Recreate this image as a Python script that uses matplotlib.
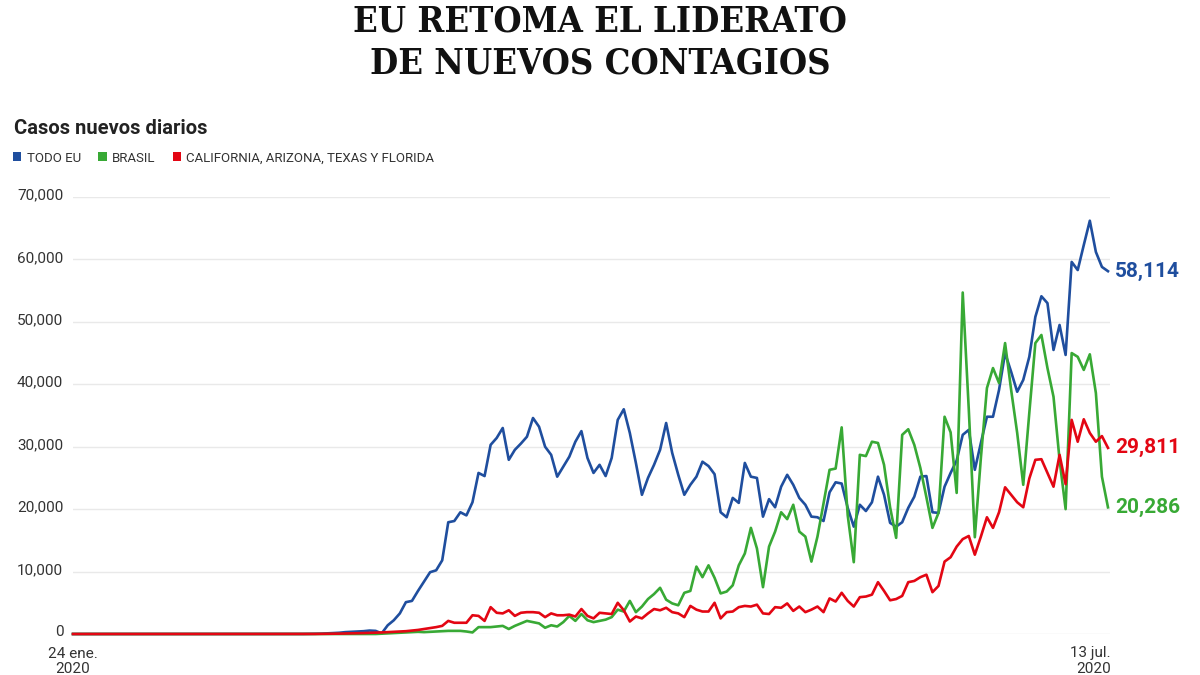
import matplotlib
matplotlib.use("Agg")
import matplotlib.pyplot as plt
from matplotlib import font_manager as fm
from matplotlib.patches import Patch
from matplotlib.transforms import ScaledTranslation
import pandas as pd

# daily new cases, 24 jan -> 13 jul 2020
fechas = pd.date_range("2020-01-24", "2020-07-13", freq="D")

todo_eu = [0] * 38 + [
    10, 20, 40, 60, 100, 150, 200, 300, 350, 400, 450, 550, 500,
    100, 1400, 2200, 3300, 5100, 5300, 6900, 8400, 9900, 10200,
    11800, 17900, 18100, 19500, 19000, 21100, 25800, 25300, 30300, 31400,
    33000, 27900, 29500, 30500, 31600, 34600, 33200, 30000, 28700, 25200,
    26800, 28400, 30800, 32500, 28200, 25800, 27100, 25300, 28200, 34300,
    36000, 32200, 27400, 22300, 25000, 27100, 29500, 33800, 29000, 25500,
    22300, 23900, 25200, 27600, 26900, 25600, 19500, 18700, 21800, 21000,
    27400, 25200, 25000, 18800, 21600, 20300, 23600, 25500, 23900, 21800,
    20700, 18800, 18700, 18100, 22700, 24300, 24100, 20200, 17200, 20700,
    19700, 21100, 25200, 22300, 17800, 17200, 17900, 20200, 22000, 25200,
    25300, 19500, 19400, 23600, 25800, 27800, 31900, 32700, 26300, 30600,
    34800, 34800, 39100, 45000, 42000, 38800, 40700, 44400, 50800, 54100,
    53000, 45500, 49500, 44700, 59600, 58300, 62300, 66200, 61200, 58800,
    58114,
]

brasil = [0] * 51 + [
    50, 100, 150, 200, 250, 300, 350, 300, 350, 400,
    450, 500, 500, 500, 400, 250, 1100, 1100, 1100, 1200,
    1300, 800, 1300, 1700, 2100, 1900, 1700, 1000, 1400, 1200,
    1900, 2900, 2100, 3200, 2200, 1900, 2100, 2300, 2700, 3900,
    3600, 5300, 3500, 4400, 5600, 6400, 7400, 5500, 4900, 4600,
    6600, 6900, 10800, 9100, 11000, 9000, 6500, 6800, 7800, 11000,
    12900, 17000, 13700, 7500, 14000, 16400, 19500, 18400, 20700, 16400,
    15600, 11600, 15600, 20900, 26300, 26500, 33100, 19000, 11500, 28700,
    28500, 30800, 30600, 27100, 20300, 15400, 31900, 32800, 30300, 26600,
    21900, 17000, 19400, 34800, 32300, 22600, 54700, 36000, 15500, 28200,
    39400, 42600, 40200, 46600, 39100, 32200, 23900, 35400, 46600, 47900,
    42600, 38000, 27900, 20000, 45000, 44400, 42300, 44800, 38600, 25200,
    20286,
]

estados = [0] * 40 + [
    10, 20, 30, 50, 60, 80, 100, 120, 150, 180,
    200, 250, 300, 350, 400, 450, 550, 650, 800, 950,
    1100, 1300, 2100, 1800, 1800, 1800, 3000, 2900, 2100, 4300,
    3400, 3300, 3800, 2900, 3400, 3500, 3500, 3400, 2700, 3300,
    3000, 3000, 3100, 2800, 4000, 2900, 2500, 3400, 3300, 3200,
    5000, 3800, 2000, 2800, 2500, 3300, 4000, 3800, 4200, 3500,
    3300, 2700, 4500, 3900, 3600, 3600, 5000, 2500, 3500, 3600,
    4300, 4500, 4400, 4700, 3300, 3200, 4300, 4200, 4900, 3700,
    4400, 3500, 3900, 4400, 3500, 5700, 5200, 6600, 5300, 4400,
    5900, 6000, 6300, 8300, 6900, 5400, 5600, 6100, 8300, 8500,
    9100, 9500, 6700, 7700, 11600, 12300, 14000, 15200, 15700, 12700,
    15600, 18700, 17000, 19500, 23500, 22300, 21100, 20300, 24900, 27900,
    28000, 25800, 23600, 28700, 24000, 34300, 30800, 34400, 32200, 30800,
    31700, 29811,
]

series = [
    ("TODO EU", todo_eu, "#1f4e9e"),
    ("BRASIL", brasil, "#38a935"),
    ("CALIFORNIA, ARIZONA, TEXAS Y FLORIDA", estados, "#e30613"),
]
y_ticks = [0, 10000, 20000, 30000, 40000, 50000, 60000, 70000]
x_labels = ["24 ene.\n2020", "13 jul.\n2020"]
titulo = ["EU RETOMA EL LIDERATO", "DE NUEVOS CONTAGIOS"]

plt.rcParams["font.family"] = ["Roboto", "DejaVu Sans"]

# condensed bold serif for the headline if there is one
cond = [f for f in fm.fontManager.ttflist
        if f.name.startswith("DejaVu Serif") and f.stretch == "condensed"
        and f.weight in ("bold", 700) and f.style == "normal"]
if cond:
    title_fp = fm.FontProperties(fname=cond[0].fname, size=26)
else:
    title_fp = fm.FontProperties(family="DejaVu Serif", weight="bold", size=26)

fig = plt.figure(figsize=(12, 6.75), dpi=100)
ax = fig.add_axes([73 / 1200, 1 - 634 / 675, 1037 / 1200, 437 / 675])

for nombre, valores, color in series:
    ax.plot(fechas, valores, color=color, lw=1.9, solid_joinstyle="round", clip_on=False)

# end value labels
for nombre, valores, color in series:
    ax.annotate(f"{valores[-1]:,}", xy=(fechas[-1], valores[-1]), xytext=(5, 0),
                textcoords="offset points", va="center", ha="left",
                color=color, fontsize=15, fontweight="bold")

ax.set_ylim(0, 70000)
ax.set_xlim(fechas[0], fechas[-1] + pd.Timedelta(hours=8))
ax.set_yticks(y_ticks)
ax.set_yticklabels([f"{v:,}" for v in y_ticks])
ax.grid(axis="y", color="#e9e9e9", lw=1)
ax.set_axisbelow(True)
for s in ax.spines.values():
    s.set_visible(False)
ax.tick_params(axis="y", length=0, pad=7, labelsize=11, labelcolor="#333333")
ax.tick_params(axis="x", length=0, pad=9, labelsize=11, labelcolor="#333333")
for lab in ax.get_yticklabels():
    lab.set_transform(lab.get_transform() + ScaledTranslation(0, 3 / 100, fig.dpi_scale_trans))

ax.set_xticks([fechas[0], fechas[-1]])
ax.set_xticklabels(x_labels, linespacing=1.15)
ax.get_xticklabels()[1].set_horizontalalignment("right")
ax.get_xticklabels()[1].set_transform(
    ax.get_xticklabels()[1].get_transform() + ScaledTranslation(3 / 100, 0, fig.dpi_scale_trans))

# headline
fig.text(0.5, 1 - 22 / 675, titulo[0], ha="center", va="center",
         fontproperties=title_fp, color="#111111")
fig.text(0.5, 1 - 64 / 675, titulo[1], ha="center", va="center",
         fontproperties=title_fp, color="#111111")

fig.text(14 / 1200, 1 - 128 / 675, "Casos nuevos diarios", ha="left", va="center",
         fontsize=14.5, fontweight="bold", color="#222222")

handles = [Patch(facecolor=c, edgecolor="none", label=n) for n, v, c in series]
fig.legend(handles=handles, loc="center left", bbox_to_anchor=(1 / 1200, 1 - 158 / 675),
           ncol=3, frameon=False, fontsize=9.5, handlelength=0.65, handleheight=0.65,
           handletextpad=0.4, columnspacing=1.3, labelcolor="#333333")

fig.savefig("out.png", dpi=100, facecolor="white")
